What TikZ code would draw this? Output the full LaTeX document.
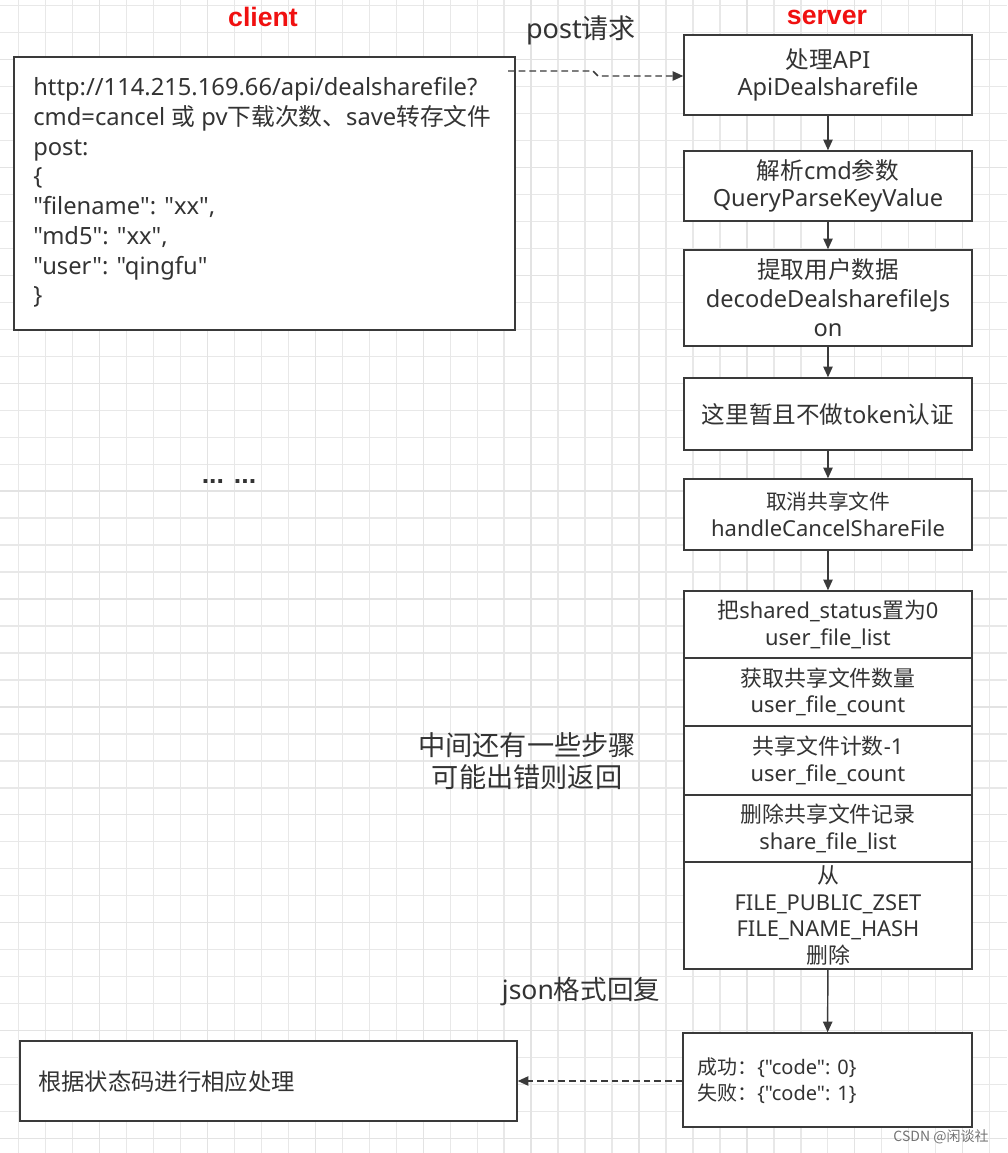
\documentclass[tikz,border=0pt]{standalone}
\usepackage{fontspec}
\newfontfamily\latin{Noto Sans}
\newfontfamily\boldsans{Liberation Sans}
\newfontfamily\zh{Noto Sans CJK SC}
\newcommand\fs[2]{\latin\fontsize{#1}{#2}\selectfont}
\usetikzlibrary{arrows.meta}
\definecolor{ink}{HTML}{333333}
\definecolor{edge}{HTML}{3A3A3A}
\definecolor{titlered}{HTML}{F01010}
\begin{document}
\begin{tikzpicture}[x=0.75pt,y=-0.75pt,font=\latin,
  gminor/.style={draw=black!9,line width=1pt},
  gmajor/.style={draw=black!11,line width=1pt},
  box/.style={draw=edge,line width=1.1pt,fill=white,inner sep=0pt,align=center,text=ink,font=\fs{17.7}{20.5}},
  stackbox/.style={box,font=\fs{16.4}{20}},
  plain/.style={inner sep=0pt,text=ink,align=left},
  title/.style={inner sep=0pt,text=titlered,font=\boldsans\bfseries\fontsize{20}{24}\selectfont},
  flow/.style={draw=edge,line width=1.1pt,-{Triangle[length=8pt,width=7pt]}},
  dflow/.style={draw=edge,line width=1.1pt,dash pattern=on 5pt off 3pt,-{Triangle[length=8pt,width=7pt]}}
]
\useasboundingbox (0,0) rectangle (1007,1153);
\fill[white] (0,0) rectangle (1007,1153);
\begin{scope}
\clip (0,0) rectangle (1007,1153);
\foreach \i in {0,...,37} {\draw[gminor] ({18.7+\i*26.97},0) -- ++(0,1153);}
\foreach \i in {0,...,42} {\draw[gminor] (0,{5.7+\i*26.97}) -- ++(1007,0);}
\foreach \i in {0,...,9} {\draw[gmajor] ({99.6+\i*107.88},0) -- ++(0,1153);}
\foreach \i in {0,...,10} {\draw[gmajor] (0,{59.6+\i*107.88}) -- ++(1007,0);}
\end{scope}

% titles and labels
\node[title] (tc) at (263,17) {client};
\node[title] (ts) at (827,17) {server};
\node[plain,font=\fs{20.3}{24}] (lp) at (581,30) {post{\zh 请求}};
\node[plain,font=\boldsans\bfseries\fontsize{20}{24}\selectfont] (dots) at (229,482) {... ...};
\node[plain,align=center,font=\zh\fontsize{20.4}{24}\selectfont] (lmid) at (527,761) {中间还有一些步骤\\可能出错则返回};
\node[plain,font=\fs{19.9}{24}] (lj) at (581,992) {json{\zh 格式回复}};
\node[plain,text=black!55,font=\zh\fontsize{10.5}{12}\selectfont] (wm) at (941,1137) {CSDN @闲谈社};

% client request box
\node[box,minimum width=375.75pt,minimum height=204.75pt] (cb) at (264.5,193.5) {};
\node[plain,anchor=west,font=\fs{17.8}{22.3}] (cbt) at (33,192.5) {http://114.215.169.66/api/dealsharefile?\\
cmd=cancel {\zh 或} pv{\zh 下载次数、}save{\zh 转存文件}\\
post:\\
\{\\
"filename": "xx",\\
"md5": "xx",\\
"user": "qingfu"\\
\}};

% server chain
\node[box,minimum width=216pt,minimum height=60pt] (a1) at (828,75) {{\zh 处理}API\\ApiDealsharefile};
\node[box,minimum width=216pt,minimum height=52.5pt] (a2) at (828,186) {{\zh 解析}cmd{\zh 参数}\\QueryParseKeyValue};
\node[box,minimum width=216pt,minimum height=72pt,font=\fs{17.7}{21.7}] (a3) at (828,298) {{\zh 提取用户数据}\\decodeDealsharefileJs\\on};
\node[box,minimum width=216pt,minimum height=54pt] (a4) at (828,414) {{\zh 这里暂且不做}token{\zh 认证}};
\node[box,minimum width=216pt,minimum height=53.25pt,font=\fs{16.5}{20}] (a5) at (828,514.5) {{\zh\fontsize{15.5}{20}\selectfont 取消共享文件}\\handleCancelShareFile};

\node[stackbox,minimum width=216pt,minimum height=50.25pt] (s1) at (828,624.5) {{\zh 把}shared\_status{\zh 置为}0\\user\_file\_list};
\node[stackbox,minimum width=216pt,minimum height=51pt] (s2) at (828,692) {{\zh 获取共享文件数量}\\user\_file\_count};
\node[stackbox,minimum width=216pt,minimum height=51.75pt] (s3) at (828,760.5) {{\zh 共享文件计数}-1\\user\_file\_count};
\node[stackbox,minimum width=216pt,minimum height=50.25pt] (s4) at (828,828.5) {{\zh 删除共享文件记录}\\share\_file\_list};
\node[stackbox,minimum width=216pt,minimum height=80.25pt] (s5) at (828,915.5) {{\zh 从}\\FILE\_PUBLIC\_ZSET\\FILE\_NAME\_HASH\\{\zh 删除}};

% result box
\node[box,minimum width=216.75pt,minimum height=70.5pt] (res) at (827.5,1080) {};
\node[plain,anchor=west,font=\fs{15}{19.5}] (rest) at (697,1081) {{\zh 成功：}\{"code": 0\}\\{\zh 失败：}\{"code": 1\}};

% client result box
\node[box,minimum width=372.75pt,minimum height=60pt] (cr) at (268.5,1081) {};
\node[plain,anchor=west,font=\zh\fontsize{17.5}{21}\selectfont] (crt) at (38,1082) {根据状态码进行相应处理};

% connectors
\draw[flow] (a1) -- (a2);
\draw[flow] (a2) -- (a3);
\draw[flow] (a3) -- (a4);
\draw[flow] (a4) -- (a5);
\draw[flow] (a5) -- (s1);
\draw[flow] (s5) -- (res);

\coordinate (p0) at (508,71);
\coordinate (p1) at (593,71);
\coordinate (p2) at (598,76);
\draw[dflow] (p0) -- (p1) -- (p2) -- (p2 -| a1.west);
\draw[dflow] (res.west |- cr.east) -- (cr.east);
\end{tikzpicture}
\end{document}
